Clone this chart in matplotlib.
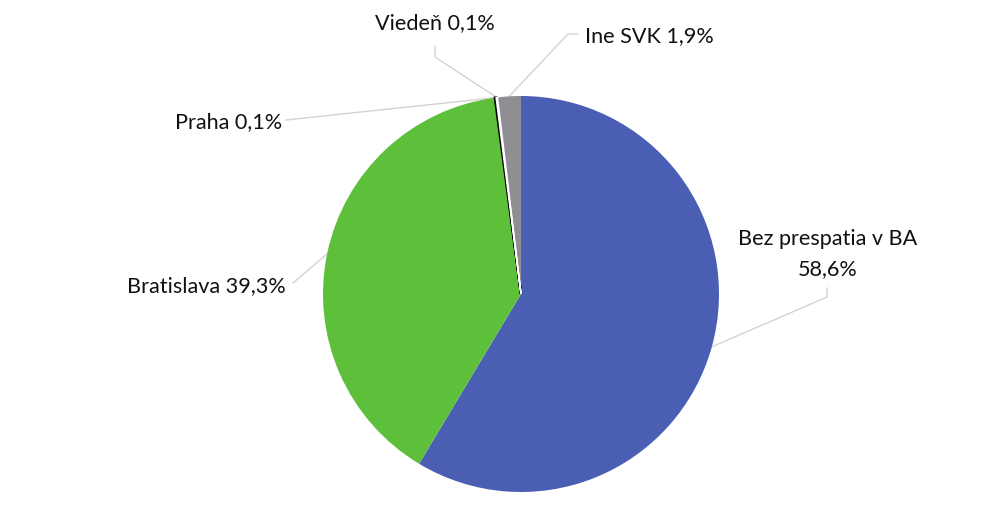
import numpy as np
import matplotlib
matplotlib.use("Agg")
import matplotlib.pyplot as plt

categories = ["Bez prespatia v BA", "Bratislava", "Praha", "Viedeň", "Ine SVK"]
values = [58.6, 39.3, 0.1, 0.1, 1.9]
value_labels = ["58,6%", "39,3%", "0,1%", "0,1%", "1,9%"]
colors = ["#4A5EB4", "#5DBF3A", "#000000", "#FFFFFF", "#8E8E93"]

W, H = 1006, 512
fig = plt.figure(figsize=(W / 100, H / 100), dpi=100)
ax = fig.add_axes([0, 0, 1, 1])
ax.set_xlim(0, W)
ax.set_ylim(0, H)
ax.set_aspect("equal")
ax.axis("off")

def P(px, py):
    return (px, H - py)

cx, cy = P(521, 294)
R = 198
wedges, _ = ax.pie(values, colors=colors, startangle=90, counterclock=False,
                   center=(cx, cy), radius=R, frame=True,
                   wedgeprops=dict(linewidth=0))
wedges[2].set_edgecolor("black"); wedges[2].set_linewidth(1.8)
wedges[3].set_edgecolor("white"); wedges[3].set_linewidth(1.2)
wedges[3].set_zorder(3)
ax.set_xlim(0, W)
ax.set_ylim(0, H)
ax.axis("off")

font = dict(family=["Lato", "DejaVu Sans"], fontsize=15.6, color="#111111")
lc = "#D3D3D3"

def edge_point(i):
    w = wedges[i]
    a = np.deg2rad((w.theta1 + w.theta2) / 2)
    return (cx + R * np.cos(a), cy + R * np.sin(a))

layout = {
    0: dict(text=(828, 254), ha="center", path=[(827, 297), (827, 288)]),
    1: dict(text=(286, 286), ha="right", path=[(293, 283)]),
    2: dict(text=(282, 122), ha="right", path=[(286, 120)]),
    3: dict(text=(435, 23), ha="center", path=[(435, 57), (435, 46)]),
    4: dict(text=(585, 36), ha="left", path=[(568, 34), (578, 34)]),
}

for i, cfg in layout.items():
    x0, y0 = edge_point(i)
    xs = [x0] + [P(*p)[0] for p in cfg["path"]]
    ys = [y0] + [P(*p)[1] for p in cfg["path"]]
    ax.plot(xs, ys, color=lc, lw=1, zorder=0)
    if i == 0:
        label = f"{categories[i]}\n{value_labels[i]}"
    else:
        label = f"{categories[i]} {value_labels[i]}"
    tx, ty = P(*cfg["text"])
    ax.text(tx, ty, label, ha=cfg["ha"], va="center", multialignment="center",
            linespacing=1.65, **font)

fig.savefig("out.png", dpi=100, facecolor="white")
